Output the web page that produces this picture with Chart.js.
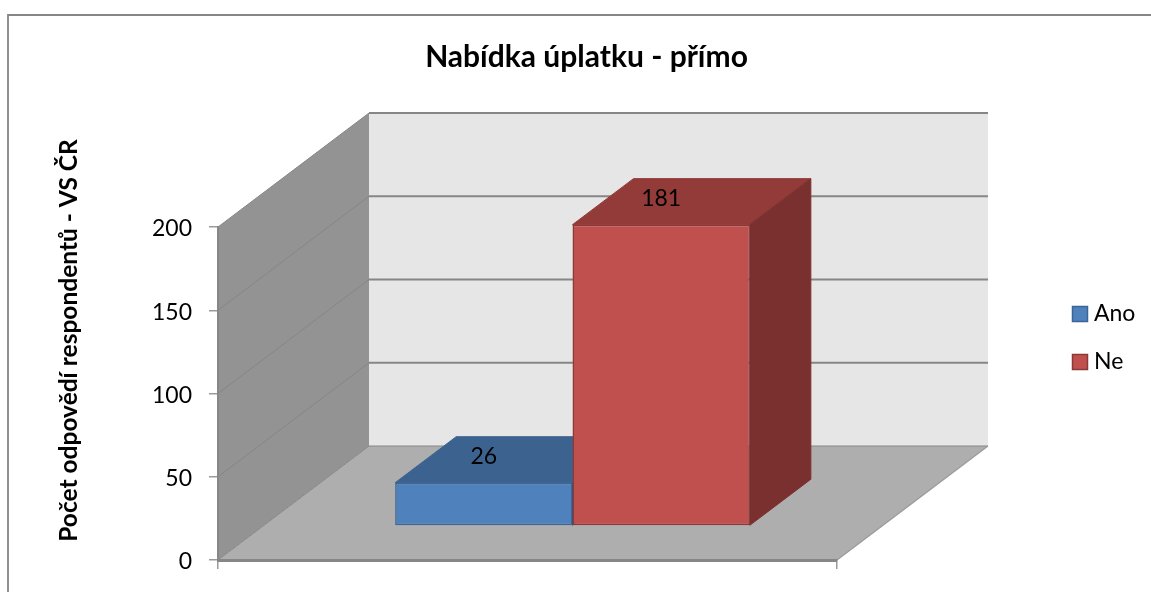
<!DOCTYPE html>
<html>
<head>
<meta charset="utf-8">
<title>Nabídka úplatku - přímo</title>
<style>
    html, body { margin: 0; padding: 0; background: #fff; overflow: hidden; }
    canvas { display: block; }
</style>
<script src="https://cdn.jsdelivr.net/npm/chart.js@4/dist/chart.umd.min.js"></script>
</head>
<body>
<canvas id="bribeChart" width="1151" height="592"></canvas>
<script>
var chartTitle = "Nabídka úplatku - přímo";
var axisTitle = "Počet odpovědí respondentů - VS ČR";
var categories = [""];
var seriesNames = ["Ano", "Ne"];
var seriesValues = [[26], [181]];
var tickStep = 50;
var axisMax = 200;

var frontColors = ["#4f81bd", "#c0504d"];
var borderColors = ["#3a6595", "#8c3836"];
var topColors = ["#3c638f", "#923b39"];
var sideColors = ["#315274", "#7a302e"];
var lineGray = "#868686";
var font = "Lato";

// depth of the box and of the bars (bars sit in the middle of the floor)
var wallDepth = { x: 151, y: -114 };
var barShift = { x: 45, y: -34 };
var barDepth = { x: 61, y: -46 };

function poly(ctx, pts, fill, stroke, lw) {
    ctx.beginPath();
    pts.forEach(function (p, i) {
        if (i === 0) ctx.moveTo(p[0], p[1]);
        else ctx.lineTo(p[0], p[1]);
    });
    ctx.closePath();
    if (fill) { ctx.fillStyle = fill; ctx.fill(); }
    if (stroke) { ctx.strokeStyle = stroke; ctx.lineWidth = lw || 1; ctx.stroke(); }
}

function line(ctx, x1, y1, x2, y2, color, lw) {
    ctx.beginPath();
    ctx.moveTo(x1, y1);
    ctx.lineTo(x2, y2);
    ctx.strokeStyle = color;
    ctx.lineWidth = lw;
    ctx.stroke();
}

var box3d = {
    id: "box3d",
    // frame, walls, floor and gridlines
    beforeDraw: function (chart) {
        var ctx = chart.ctx, a = chart.chartArea, ys = chart.scales.y;
        var dx = wallDepth.x, dy = wallDepth.y;

        ctx.save();
        ctx.beginPath();
        ctx.moveTo(8, 592);
        ctx.lineTo(8, 15);
        ctx.lineTo(1151, 15);
        ctx.strokeStyle = lineGray;
        ctx.lineWidth = 1.8;
        ctx.stroke();

        poly(ctx, [[a.left + dx, a.top + dy], [a.right + dx, a.top + dy], [a.right + dx, a.bottom + dy], [a.left + dx, a.bottom + dy]], "#e6e6e6");
        poly(ctx, [[a.left, a.top], [a.left + dx, a.top + dy], [a.left + dx, a.bottom + dy], [a.left, a.bottom]], "#939393");
        poly(ctx, [[a.left, a.bottom], [a.right, a.bottom], [a.right + dx, a.bottom + dy], [a.left + dx, a.bottom + dy]], "#aeaeae");

        ys.ticks.forEach(function (t) {
            var y = ys.getPixelForValue(t.value);
            line(ctx, a.left + dx, y + dy, a.right + dx, y + dy, lineGray, t.value === 0 ? 1 : 2);
            line(ctx, a.left, y, a.left + dx, y + dy, "#868686", 1);
        });
        line(ctx, a.right, a.bottom, a.right + dx, a.bottom + dy, "#9a9a9a", 1.2);
        ctx.restore();
    },
    // top and side faces go first, the front faces of the bars cover them
    beforeDatasetsDraw: function (chart) {
        var ctx = chart.ctx;
        seriesValues.forEach(function (vals, i) {
            chart.getDatasetMeta(i).data.forEach(function (bar) {
                var l = bar.x - bar.width / 2 + barShift.x;
                var r = bar.x + bar.width / 2 + barShift.x;
                var t = bar.y + barShift.y;
                var b = bar.base + barShift.y;
                var dx = barDepth.x, dy = barDepth.y;
                poly(ctx, [[l, t], [r, t], [r + dx, t + dy], [l + dx, t + dy]], topColors[i], topColors[i], 1);
                poly(ctx, [[r, t], [r + dx, t + dy], [r + dx, b + dy], [r, b]], sideColors[i], sideColors[i], 1);
            });
        });
        ctx.save();
        ctx.translate(barShift.x, barShift.y);
    },
    afterDatasetsDraw: function (chart) {
        var ctx = chart.ctx;
        ctx.restore();

        // value labels
        ctx.save();
        ctx.fillStyle = "#000";
        ctx.font = "23px " + font;
        ctx.textAlign = "center";
        ctx.textBaseline = "middle";
        seriesValues.forEach(function (vals, i) {
            chart.getDatasetMeta(i).data.forEach(function (bar, j) {
                ctx.fillText(String(vals[j]), bar.x + barShift.x, bar.y + barShift.y - 26);
            });
        });

        // title
        ctx.font = "bold 30px " + font;
        ctx.fillText(chartTitle, 586.5, 57);

        // axis title
        ctx.save();
        ctx.translate(69, 340.5);
        ctx.rotate(-Math.PI / 2);
        ctx.font = "bold 24.5px " + font;
        ctx.fillText(axisTitle, 0, 0);
        ctx.restore();

        // legend
        ctx.font = "23px " + font;
        ctx.textAlign = "left";
        seriesNames.forEach(function (name, i) {
            var y = 306 + i * 48;
            ctx.fillStyle = frontColors[i];
            ctx.strokeStyle = borderColors[i];
            ctx.lineWidth = 1.5;
            ctx.fillRect(1072.5, y + 0.5, 15, 15);
            ctx.strokeRect(1072.5, y + 0.5, 15, 15);
            ctx.fillStyle = "#000";
            ctx.fillText(name, 1094, y + 8);
        });
        ctx.restore();
    }
};

var ctx = document.getElementById("bribeChart").getContext("2d");

new Chart(ctx, {
    type: "bar",
    data: {
        labels: categories,
        datasets: seriesNames.map(function (name, i) {
            return {
                label: name,
                data: seriesValues[i],
                backgroundColor: frontColors[i],
                borderColor: borderColors[i],
                borderWidth: 1.5,
                borderSkipped: false,
                categoryPercentage: 0.573,
                barPercentage: 1
            };
        })
    },
    options: {
        responsive: false,
        animation: false,
        layout: { padding: { top: 227, bottom: 23, right: 314, left: 0 } },
        plugins: {
            legend: { display: false },
            title: { display: false },
            tooltip: { enabled: false }
        },
        scales: {
            x: {
                afterFit: function (scale) { scale.height = 9; },
                grid: { drawOnChartArea: false, tickLength: 9, color: "#9a9a9a", lineWidth: 1.5 },
                border: { color: lineGray, width: 3 },
                ticks: { display: true, padding: 0, font: { size: 1 } }
            },
            y: {
                min: 0,
                max: axisMax,
                afterFit: function (scale) { scale.width = 218; },
                grid: { drawOnChartArea: false, tickLength: 9, color: "#9a9a9a", lineWidth: 1.5 },
                border: { color: lineGray, width: 2 },
                ticks: {
                    stepSize: tickStep,
                    padding: 17,
                    labelOffset: 2,
                    color: "#000",
                    font: { family: font, size: 23 }
                }
            }
        }
    },
    plugins: [box3d]
});
</script>
</body>
</html>
